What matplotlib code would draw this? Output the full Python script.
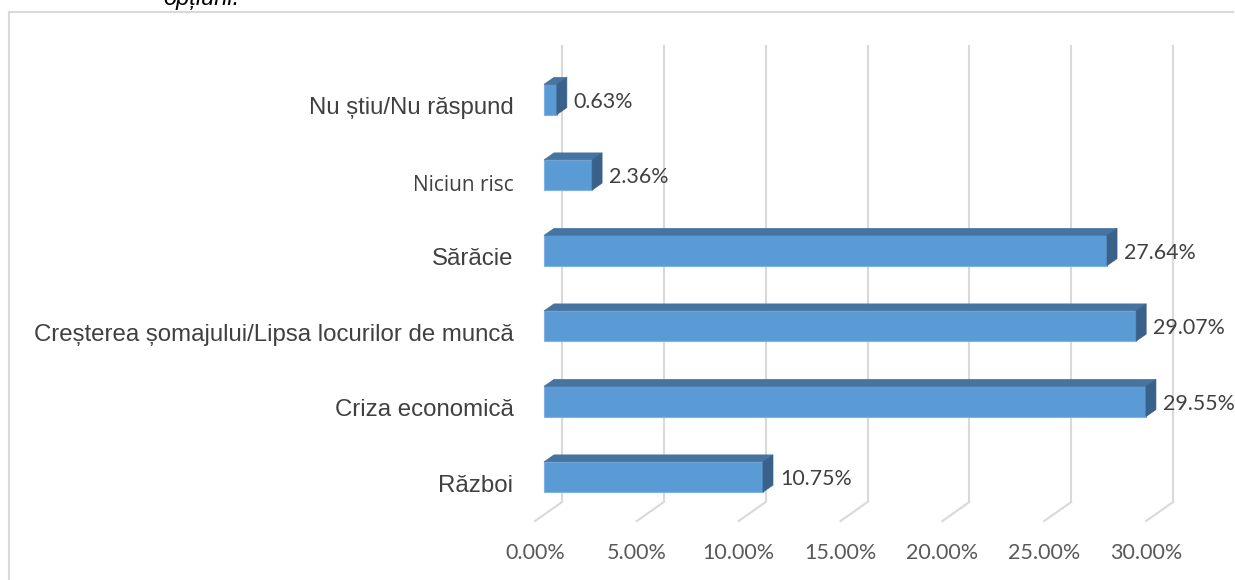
import matplotlib
matplotlib.use("Agg")
import matplotlib.pyplot as plt
from matplotlib.patches import Polygon
from matplotlib.lines import Line2D

categories = ["Război", "Criza economică", "Creșterea șomajului/Lipsa locurilor de muncă",
              "Sărăcie", "Niciun risc", "Nu știu/Nu răspund"]
values = [10.75, 29.55, 29.07, 27.64, 2.36, 0.63]
ticks = [0, 5, 10, 15, 20, 25, 30]
tick_labels = ["0.00%", "5.00%", "10.00%", "15.00%", "20.00%", "25.00%", "30.00%"]

W, H = 1235, 580
fig = plt.figure(figsize=(W / 100, H / 100), dpi=100)
fig.patch.set_facecolor("white")

# outer frame (top and left edges visible)
fy_top = 1 - 11.5 / H
fig.lines.append(Line2D([8.5 / W, 1233 / W], [fy_top, fy_top], transform=fig.transFigure,
                        color="#D9D9D9", lw=1.5))
fig.lines.append(Line2D([8.5 / W, 8.5 / W], [0, fy_top], transform=fig.transFigure,
                        color="#D9D9D9", lw=1.5))
fig.text(163 / W, 1 - 5 / H, "opțiuni.", fontsize=17, style="italic", family="Liberation Sans",
         va="baseline", ha="left", color="#000000")

ax = fig.add_axes([0.01, 0, 0.99, 0.98])
ax.axis("off")
pxu = 20.37   # pixels per percent
pyu = 75.5    # pixels per category
x0pix = 544 - 0.01 * W
ax.set_xlim(-x0pix / pxu, (0.99 * W - x0pix) / pxu)
ybot = 580 - 477
ax.set_ylim(-ybot / pyu, (0.98 * H - ybot) / pyu)

h = 0.4
dx, dy = 10 / pxu, 7 / pyu
bx, by = 18 / pxu, -0.331
fx, fy = -9 / pxu, -0.583
ytop = 5.72
grid_c = "#D9D9D9"

for t, lab in zip(ticks, tick_labels):
    ax.plot([t + bx, t + bx], [by, ytop], color=grid_c, lw=1.5, zorder=1, solid_capstyle="butt")
    ax.plot([t + bx, t + fx], [by, fy], color=grid_c, lw=1.5, zorder=1)
    ax.text(t + fx, -1.005, lab, ha="center", va="center", fontsize=15.5, family="Lato",
            color="#595959")

front_c, top_c, side_c = "#5B9BD5", "#4674A1", "#3A6189"
for i, (cat, v) in enumerate(zip(categories, values)):
    y0, y1 = i - h / 2, i + h / 2
    ax.add_patch(Polygon([(0, y0), (v, y0), (v, y1), (0, y1)], closed=True,
                         facecolor=front_c, edgecolor="#7FB2E3", lw=0.8, zorder=3))
    ax.add_patch(Polygon([(0, y1), (v, y1), (v + dx, y1 + dy), (dx, y1 + dy)], closed=True,
                         facecolor=top_c, edgecolor=top_c, lw=0.5, zorder=3))
    ax.add_patch(Polygon([(v, y0), (v + dx, y0 + dy), (v + dx, y1 + dy), (v, y1)], closed=True,
                         facecolor=side_c, edgecolor=side_c, lw=0.5, zorder=3))
    ax.text(v + 0.83, i - 0.03, f"{v:.2f}%", ha="left", va="center", fontsize=15.4,
            family="Lato", color="#404040", zorder=4)
    if cat == "Niciun risc":
        ax.text(-1.5, i - 0.14, cat, ha="right", va="center", fontsize=15,
                family="Open Sans", color="#404040")
    else:
        ax.text(-1.5, i - 0.115, cat, ha="right", va="center", fontsize=17.3,
                family="Liberation Sans", color="#404040")

fig.savefig("out.png", dpi=100, facecolor="white")
